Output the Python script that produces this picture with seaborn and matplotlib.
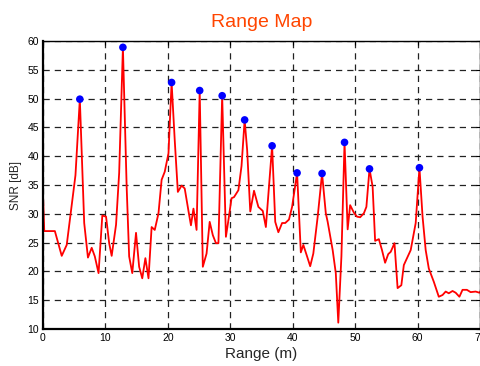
import numpy as np
import pandas as pd
import matplotlib
matplotlib.use('Agg')
import matplotlib.pyplot as plt
import seaborn as sns

# 거리별 SNR 값
range_m = [0, 0, 0.2, 1.9, 3.0, 3.8, 5.2, 5.9, 6.6, 7.2, 7.8, 8.3, 8.9, 9.5,
           10.1, 10.6, 11.0, 11.7, 12.2, 12.8, 13.4, 13.8, 14.3, 14.9, 15.4,
           15.9, 16.4, 16.9, 17.4, 17.9, 18.5, 19.0, 19.5, 20.1, 20.6, 21.1,
           21.6, 22.2, 22.7, 23.3, 23.7, 24.1, 24.6, 25.1, 25.6, 26.2, 26.7,
           27.2, 27.7, 28.1, 28.7, 29.3, 29.7, 30.2, 30.6, 31.3, 31.8, 32.3,
           32.7, 33.2, 33.8, 34.5, 35.2, 35.7, 36.7, 37.2, 37.7, 38.3, 38.8,
           39.4, 39.9, 40.7, 41.3, 41.7, 42.3, 42.8, 43.3, 44.0, 44.7, 45.3,
           45.6, 46.4, 46.9, 47.3, 47.8, 48.3, 48.8, 49.2, 49.8, 50.3, 50.8,
           51.4, 51.8, 52.3, 52.8, 53.2, 53.8, 54.3, 54.8, 55.3, 55.7, 56.3,
           56.8, 57.4, 57.8, 58.9, 59.7, 60.3, 60.8, 61.3, 61.8, 62.6, 63.4,
           64.0, 64.5, 65.0, 65.6, 66.1, 66.7, 67.2, 67.9, 68.5, 69.3, 69.9,
           70.3]
snr_db = [17.6, 33.3, 27.0, 27.0, 22.7, 24.6, 36.7, 49.9, 28.4, 22.4, 24.1,
          22.6, 19.7, 29.7, 29.5, 24.9, 22.7, 28.1, 37.1, 58.9, 34.7, 22.6,
          19.7, 26.7, 20.8, 18.8, 22.3, 18.8, 27.7, 27.2, 30.1, 35.9, 37.3,
          40.5, 52.8, 42.8, 33.8, 34.9, 34.4, 30.5, 28.0, 30.9, 27.2, 51.4,
          20.8, 23.1, 28.6, 26.3, 24.9, 24.9, 50.5, 26.0, 28.9, 32.7, 32.9,
          34.1, 38.3, 46.3, 41.1, 30.4, 34.0, 31.2, 30.5, 27.7, 41.8, 28.6,
          26.8, 28.4, 28.4, 29.0, 31.2, 37.1, 23.3, 24.6, 22.6, 20.9, 23.1,
          29.5, 37.0, 30.1, 28.6, 23.7, 19.7, 11.1, 22.6, 42.4, 27.3, 31.5,
          30.2, 29.5, 29.4, 30.1, 31.2, 37.8, 34.7, 25.3, 25.6, 23.7, 21.5,
          23.0, 23.4, 24.9, 17.1, 17.6, 21.1, 23.7, 28.4, 38.0, 29.5, 23.7,
          20.5, 18.2, 15.6, 15.9, 16.5, 16.2, 16.6, 16.3, 15.6, 16.8, 16.8,
          16.4, 16.5, 16.3, 16.8]

# 검출된 피크
peak_range = [5.9, 12.8, 20.6, 25.1, 28.7, 32.3, 36.7, 40.7, 44.7, 48.3, 52.3, 60.3]
peak_snr = [49.9, 58.9, 52.8, 51.4, 50.5, 46.3, 41.8, 37.1, 37.0, 42.4, 37.8, 38.0]

x_ticks = [0, 10, 20, 30, 40, 50, 60, 70]
y_ticks = [10, 15, 20, 25, 30, 35, 40, 45, 50, 55, 60]

sns.set_style('white')
plt.rcParams['font.family'] = ['Liberation Sans', 'DejaVu Sans']

df = pd.DataFrame({'range': range_m, 'snr': snr_db})
peaks = pd.DataFrame({'range': peak_range, 'snr': peak_snr})

fig = plt.figure(figsize=(4.8, 3.66), dpi=100)
ax = fig.add_axes([43 / 480, 37 / 366, 437 / 480, 288 / 366])

sns.lineplot(data=df, x='range', y='snr', sort=False, estimator=None,
             color='red', linewidth=1.3, ax=ax)
sns.scatterplot(data=peaks, x='range', y='snr', color='blue', s=30,
                edgecolor='none', zorder=5, ax=ax, clip_on=False)

ax.set_xlim(0, 70)
ax.set_ylim(10, 60)
ax.set_xticks(x_ticks)
ax.set_yticks(y_ticks)
ax.grid(True, color='#222222', linestyle=(0, (5, 4)), linewidth=0.9)
ax.tick_params(direction='in', length=3, labelsize=7.5, top=True, right=True,
               colors='black', pad=3)
for side in ['left', 'bottom']:
    ax.spines[side].set_linewidth(1.6)
ax.spines['top'].set_linewidth(1.0)
ax.spines['right'].set_linewidth(1.0)
for s in ax.spines.values():
    s.set_color('black')

ax.set_title('Range Map', color='orangered', fontsize=14, pad=10)
ax.set_xlabel('Range (m)', fontsize=11, labelpad=3)
ax.set_ylabel('SNR [dB]', fontsize=8.5, labelpad=4)

plt.savefig('out.png', dpi=100)
